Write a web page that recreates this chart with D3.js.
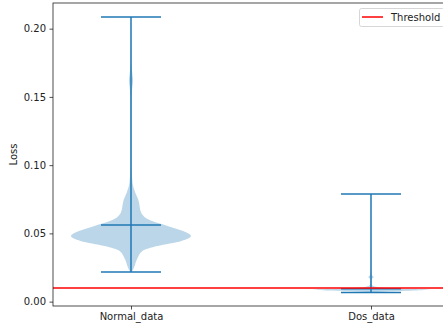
<!DOCTYPE html>
<html lang="en">
<head>
  <meta charset="UTF-8">
  <script src="https://cdnjs.cloudflare.com/ajax/libs/d3/7.8.5/d3.min.js"></script>
  <style>
    body { margin: 0; font-family: 'DejaVu Sans', sans-serif; background: #fff; }
    .tick text { font-size: 10px; fill: #222; }
  </style>
  <title>Loss violin</title>
</head>
<body>
<div id="chart"></div>
<script>
// categories and summary stats
const categories = ["Normal_data", "Dos_data"];
const mins = [0.0218, 0.0066];
const maxs = [0.2086, 0.0789];
const centers = [0.0562, 0.0095];
const threshold = 0.01;
const yTicks = [0.00, 0.05, 0.10, 0.15, 0.20];

// violin profiles: [loss, relative half-width]
const normalProfile = [
  [0.0218, 0], [0.0225, 0.02], [0.025, 0.05], [0.031, 0.1], [0.0371, 0.19],
  [0.0407, 0.44], [0.0444, 0.84], [0.048, 1.0], [0.0517, 0.87], [0.0553, 0.62],
  [0.059, 0.35], [0.0651, 0.17], [0.0748, 0.12], [0.080, 0.07], [0.0872, 0.025],
  [0.10, 0.01], [0.15, 0.01], [0.158, 0.025], [0.162, 0.035], [0.166, 0.025],
  [0.175, 0.008], [0.2086, 0]
];
const dosProfile = [
  [0.0066, 0], [0.0074, 0.25], [0.0081, 0.75], [0.0088, 1.0], [0.0095, 0.55],
  [0.0103, 0.18], [0.0115, 0.04], [0.013, 0.012], [0.0163, 0.012], [0.018, 0.045],
  [0.0197, 0.012], [0.025, 0.004], [0.0789, 0]
];
const profiles = [normalProfile, dosProfile];

const W = 443, H = 329;
const mLeft = 53, mRight = 449, mTop = 3, mBottom = 306;
const blue = "#1f77b4";

const svg = d3.select("#chart").append("svg")
  .attr("width", W).attr("height", H);

const x = d3.scaleLinear().domain([0.675, 2.325]).range([mLeft, mRight]);
const y = d3.scaleLinear().domain([-0.0032, 0.2188]).range([mBottom, mTop]);

svg.append("defs").append("clipPath").attr("id", "clip")
  .append("rect").attr("x", mLeft).attr("y", mTop)
  .attr("width", mRight - mLeft).attr("height", mBottom - mTop);

const plot = svg.append("g").attr("clip-path", "url(#clip)");

// violin bodies
profiles.forEach(function (prof, i) {
  const pos = i + 1;
  const area = d3.area()
    .curve(d3.curveMonotoneY)
    .y(function (d) { return y(d[0]); })
    .x0(function (d) { return x(pos - d[1] * 0.25); })
    .x1(function (d) { return x(pos + d[1] * 0.25); });
  plot.append("path")
    .datum(prof)
    .attr("fill", blue)
    .attr("fill-opacity", 0.3)
    .attr("d", area);
});

// extrema, bars and center lines
categories.forEach(function (c, i) {
  const pos = i + 1;
  [maxs[i], mins[i], centers[i]].forEach(function (v) {
    plot.append("line")
      .attr("x1", x(pos - 0.125)).attr("x2", x(pos + 0.125))
      .attr("y1", y(v)).attr("y2", y(v))
      .attr("stroke", blue).attr("stroke-width", 1.5);
  });
  plot.append("line")
    .attr("x1", x(pos)).attr("x2", x(pos))
    .attr("y1", y(mins[i])).attr("y2", y(maxs[i]))
    .attr("stroke", blue).attr("stroke-width", 1.5);
});

// threshold
plot.append("line")
  .attr("x1", mLeft).attr("x2", mRight)
  .attr("y1", y(threshold)).attr("y2", y(threshold))
  .attr("stroke", "red").attr("stroke-width", 1.5);

// axes
const yAxis = svg.append("g")
  .attr("transform", "translate(" + mLeft + ",0)")
  .call(d3.axisLeft(y).tickValues(yTicks).tickFormat(d3.format(".2f")).tickSizeOuter(0).tickSize(3.5).tickPadding(3.5));
const xAxis = svg.append("g")
  .attr("transform", "translate(0," + mBottom + ")")
  .call(d3.axisBottom(x).tickValues([1, 2]).tickFormat(function (d) { return categories[d - 1]; }).tickSizeOuter(0).tickSize(3.5).tickPadding(3.5));
[yAxis, xAxis].forEach(function (a) {
  a.select(".domain").remove();
  a.selectAll(".tick line").attr("stroke", "#222").attr("stroke-width", 0.8);
  a.selectAll("text").style("font-family", "'DejaVu Sans', sans-serif");
});

// frame
svg.append("rect")
  .attr("x", mLeft).attr("y", mTop)
  .attr("width", mRight - mLeft).attr("height", mBottom - mTop)
  .attr("fill", "none").attr("stroke", "#222").attr("stroke-width", 0.8);

// y label
svg.append("text")
  .attr("transform", "translate(17," + ((mTop + mBottom) / 2) + ") rotate(-90)")
  .attr("text-anchor", "middle")
  .style("font-size", "10px").style("fill", "#222")
  .text("Loss");

// legend
const lg = svg.append("g");
lg.append("rect")
  .attr("x", 359.5).attr("y", 8.5).attr("width", 85).attr("height", 18)
  .attr("rx", 2).attr("fill", "white").attr("fill-opacity", 0.8)
  .attr("stroke", "#ccc").attr("stroke-width", 0.8);
lg.append("line")
  .attr("x1", 362).attr("x2", 383).attr("y1", 17).attr("y2", 17)
  .attr("stroke", "red").attr("stroke-width", 1.5);
lg.append("text")
  .attr("x", 391).attr("y", 21)
  .style("font-size", "10px").style("fill", "#222")
  .text("Threshold");
</script>
</body>
</html>
